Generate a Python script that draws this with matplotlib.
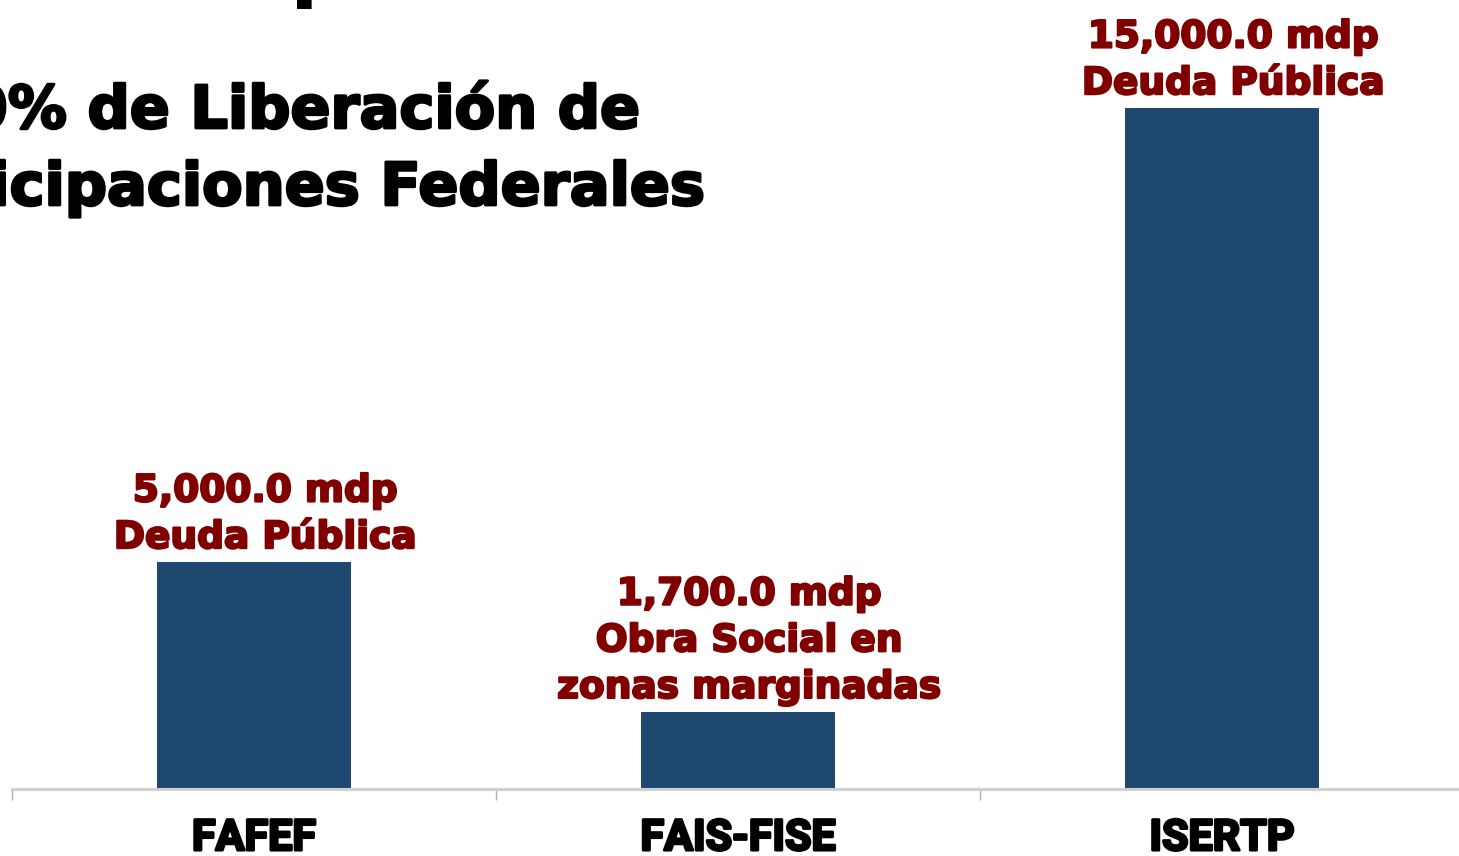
import matplotlib
matplotlib.use("Agg")
import matplotlib.pyplot as plt
import matplotlib.patheffects as pe

# data
categories = ["FAFEF", "FAIS-FISE", "ISERTP"]
amounts = [5000.0, 1700.0, 15000.0]
notes = ["Deuda Pública", "Obra Social en\nzonas marginadas", "Deuda Pública"]
title_lines = ["0% de Liberación de", "ticipaciones Federales"]

W, H = 1459, 856
bar_color = "#1F4870"
red = "#800000"


def heavy(w, c):
    return [pe.withStroke(linewidth=w, foreground=c)]


fig = plt.figure(figsize=(W / 100, H / 100), dpi=100)
fig.patch.set_facecolor("white")

# axes: baseline at y=789 px, category slots 484 px wide starting at x=12
ax = fig.add_axes([12 / W, (H - 789) / H, 1452 / W, 681 / H])
x = list(range(len(categories)))
ax.bar(x, amounts, width=0.4, color=bar_color, zorder=2)
ax.set_xlim(-0.5, len(categories) - 0.5)
ax.set_ylim(0, 15000)

for s in ["left", "right", "top"]:
    ax.spines[s].set_visible(False)
ax.spines["bottom"].set_color("#d0d0d0")
ax.spines["bottom"].set_linewidth(2.2)
ax.spines["bottom"].set_clip_on(False)
ax.set_yticks([])

ax.set_xticks(x)
ax.set_xticklabels(categories, fontfamily="Roboto", fontweight="bold",
                   fontsize=31, color="black")
for t in ax.get_xticklabels():
    t.set_path_effects(heavy(2.0, "black"))
ax.tick_params(axis="x", which="major", length=0, pad=21)
ax.set_xticks([i - 0.5 for i in range(len(categories) + 1)], minor=True)
ax.tick_params(axis="x", which="minor", length=8, width=1, color="#b0b0b0")

for i, (v, n) in enumerate(zip(amounts, notes)):
    label = f"{v:,.1f} mdp\n{n}"
    ax.annotate(label, xy=(i, v), xytext=(8, 10), textcoords="offset points",
                ha="center", va="baseline", multialignment="center",
                fontfamily="DejaVu Sans", fontweight="bold", fontsize=27,
                color=red, linespacing=1.38, annotation_clip=False,
                path_effects=heavy(1.6, red))

# cropped title
fig.text(640 / W, 1 - 128 / H, title_lines[0], ha="right", va="baseline",
         fontfamily="DejaVu Sans", fontweight="bold", fontsize=42.5, color="black",
         path_effects=heavy(2.0, "black"))
fig.text(705 / W, 1 - 205 / H, title_lines[1], ha="right", va="baseline",
         fontfamily="DejaVu Sans", fontweight="bold", fontsize=42.5, color="black",
         path_effects=heavy(2.0, "black"))
fig.text(290 / W, 1 + 8 / H, "p", ha="left", va="baseline",
         fontfamily="DejaVu Sans", fontweight="bold", fontsize=60, color="black")

fig.savefig("out.png", dpi=100, facecolor="white")
